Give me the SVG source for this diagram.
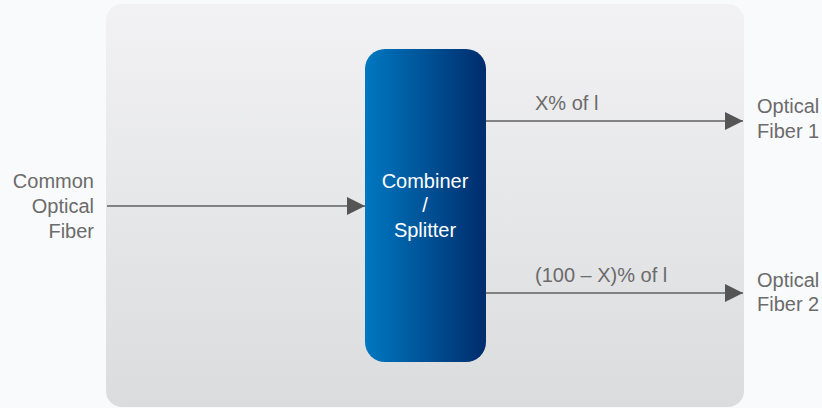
<svg xmlns="http://www.w3.org/2000/svg" width="822" height="408" viewBox="0 0 822 408">
<style>
text{font-family:"Liberation Sans",Arial,sans-serif;font-size:20px;fill:#6b6b6b}
.w{fill:#ffffff;text-anchor:middle}
.r{text-anchor:end}
.ln{stroke:#606060;stroke-width:1.5;fill:none}
</style>
<defs>
<linearGradient id="bg" x1="0" y1="0" x2="0" y2="1"><stop offset="0" stop-color="#f2f2f4"/><stop offset="1" stop-color="#dbdcde"/></linearGradient>
<linearGradient id="bx" x1="0" y1="0" x2="1" y2="0"><stop offset="0" stop-color="#0078c1"/><stop offset="1" stop-color="#002c6c"/></linearGradient>
<marker id="ah" markerWidth="18" markerHeight="18" refX="18" refY="9" orient="auto" markerUnits="userSpaceOnUse"><path d="M0,0 L18,9 L0,18 Z" fill="#555"/></marker>
</defs>
<rect width="822" height="408" fill="#f9fafc"/>
<rect x="106" y="4" width="638" height="403" rx="16" fill="url(#bg)"/>
<g id="connectors">
<line class="ln" x1="107" y1="206" x2="365" y2="206" marker-end="url(#ah)"/>
<line class="ln" x1="486" y1="121" x2="743" y2="121" marker-end="url(#ah)"/>
<line class="ln" x1="486" y1="293" x2="743" y2="293" marker-end="url(#ah)"/>
<text x="535" y="110">X% of l</text>
<text x="535" y="282">(100 – X)% of l</text>
</g>
<g id="splitter">
<rect x="365" y="49" width="121" height="313" rx="20" fill="url(#bx)"/>
<text class="w" x="425" y="188">Combiner</text>
<text class="w" x="425" y="212">/</text>
<text class="w" x="425" y="237">Splitter</text>
</g>
<g id="common">
<text class="r" x="94" y="188">Common</text>
<text class="r" x="94" y="213">Optical</text>
<text class="r" x="94" y="238">Fiber</text>
</g>
<g id="fiber1">
<text x="757" y="113">Optical</text>
<text x="757" y="138">Fiber 1</text>
</g>
<g id="fiber2">
<text x="757" y="287">Optical</text>
<text x="757" y="311">Fiber 2</text>
</g>
</svg>
